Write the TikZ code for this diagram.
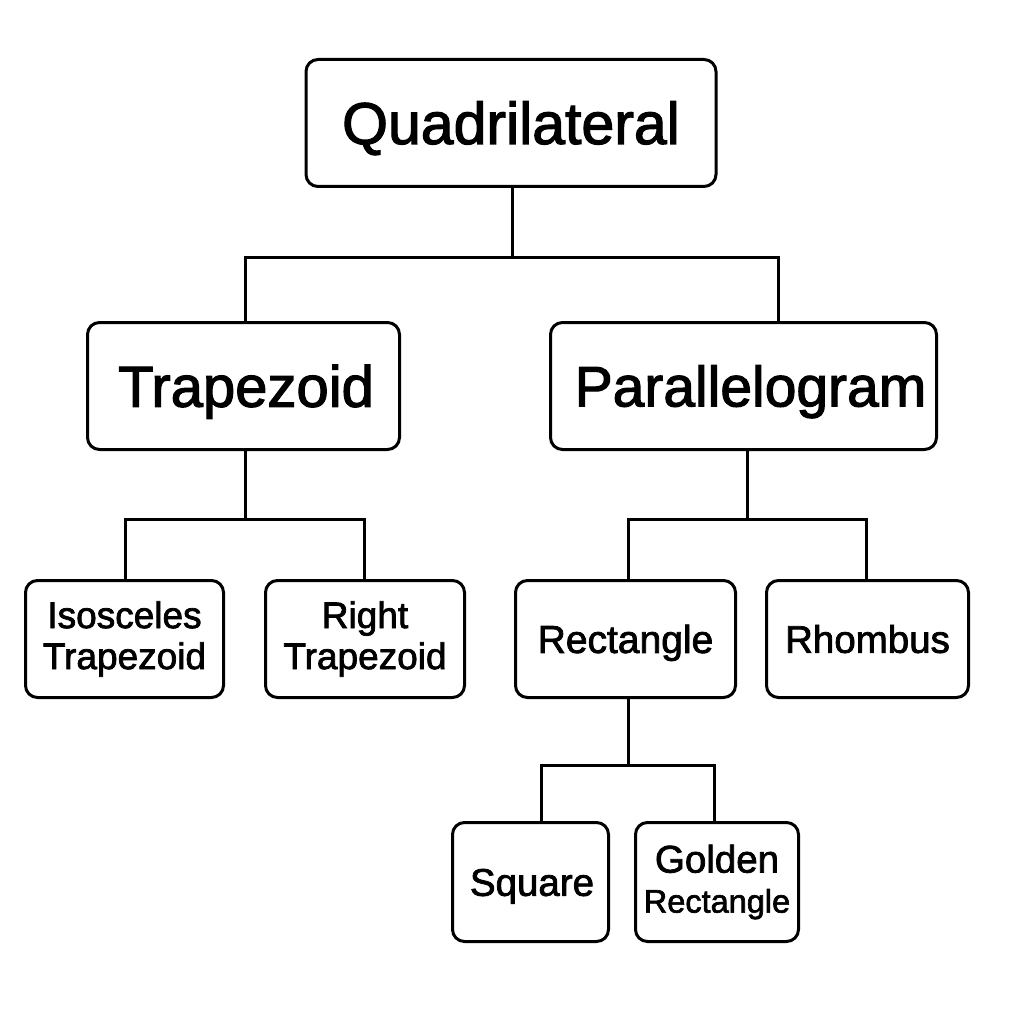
\documentclass[tikz,border=0pt]{standalone}
\usepackage{fontspec}
\setmainfont[FakeBold=2]{Liberation Sans}
\begin{document}
\begin{tikzpicture}[x=1pt,y=-1pt,
  box/.style={draw, line width=3pt, rounded corners=12pt, align=center, inner sep=0pt, fill=white},
  capmid/.style={text height=#1, text depth=0pt},
  small/.style={font=\fontsize{37}{41}\selectfont},
  conn/.style={line width=3pt}]
\useasboundingbox[fill=white] (0,0) rectangle (1024,1024);
% nodes
\node[box,font=\fontsize{59}{64}\selectfont,capmid=42pt,minimum width=410pt,minimum height=127pt] (q) at (511,123) {Quadrilateral};
\node[box,font=\fontsize{58}{64}\selectfont,capmid=41.5pt,minimum width=312pt,minimum height=127pt] (t) at (243.5,386) {\hspace*{5pt}Trapezoid};
\node[box,font=\fontsize{57}{64}\selectfont,capmid=40.8pt,minimum width=386pt,minimum height=127pt] (p) at (743.5,386) {\hspace*{14pt}Parallelogram};
\node[box,small,minimum width=198pt,minimum height=117pt] (it) at (124.5,639) {Isosceles\\Trapezoid};
\node[box,small,minimum width=199pt,minimum height=117pt] (rt) at (365,639) {Right\\Trapezoid};
\node[box,font=\fontsize{39}{44}\selectfont,capmid=27.9pt,minimum width=220pt,minimum height=117pt] (rc) at (625.5,639) {Rectangle};
\node[box,font=\fontsize{38.5}{44}\selectfont,capmid=27.6pt,minimum width=202pt,minimum height=117pt] (rh) at (867.5,639) {Rhombus};
\node[box,font=\fontsize{38.5}{44}\selectfont,capmid=27.6pt,minimum width=156pt,minimum height=119pt] (sq) at (530.5,882) {\hspace*{3pt}Square};
\node[box,font=\fontsize{38.5}{40}\selectfont,minimum width=163pt,minimum height=119pt] (gr) at (717,882) {Golden\\{\fontsize{32.5}{40}\selectfont Rectangle}};
% junction coordinates
\coordinate (j1) at (512,257);
\coordinate (j1l) at (245,257);
\coordinate (j1r) at (778,257);
\coordinate (j2) at (245,519);
\coordinate (j2l) at (125,519);
\coordinate (j2r) at (364,519);
\coordinate (j3) at (747,519);
\coordinate (j3l) at (628,519);
\coordinate (j3r) at (866,519);
\coordinate (j4) at (628,765);
\coordinate (j4l) at (541,765);
\coordinate (j4r) at (714,765);
% connectors
\draw[conn] (j1 |- q.south) -- (j1);
\draw[conn] (j1l |- t.north) -- (j1l) -- (j1r) -- (j1r |- p.north);
\draw[conn] (j2 |- t.south) -- (j2);
\draw[conn] (j2l |- it.north) -- (j2l) -- (j2r) -- (j2r |- rt.north);
\draw[conn] (j3 |- p.south) -- (j3);
\draw[conn] (j3l |- rc.north) -- (j3l) -- (j3r) -- (j3r |- rh.north);
\draw[conn] (j4 |- rc.south) -- (j4);
\draw[conn] (j4l |- sq.north) -- (j4l) -- (j4r) -- (j4r |- gr.north);
\end{tikzpicture}
\end{document}
